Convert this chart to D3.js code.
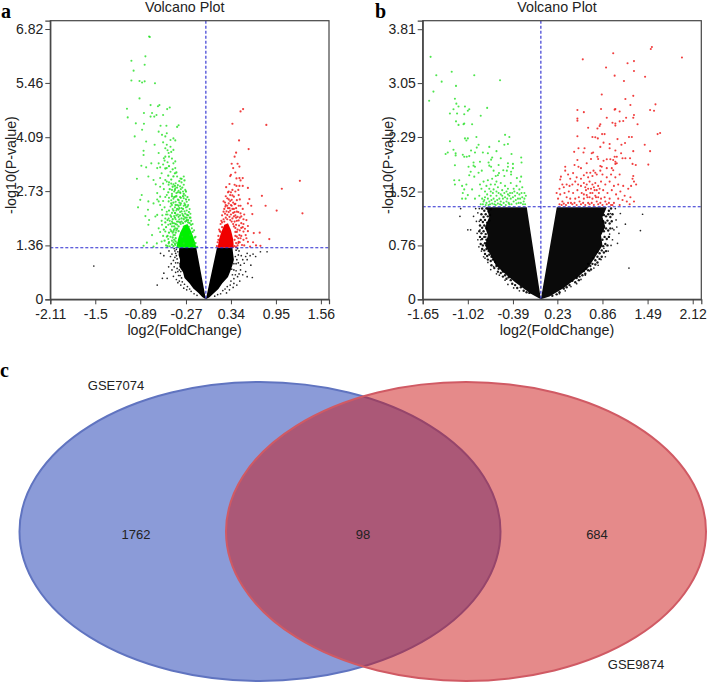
<!DOCTYPE html>
<html>
<head>
<meta charset="utf-8">
<title>Volcano plots and Venn diagram</title>
<script src="https://cdnjs.cloudflare.com/ajax/libs/d3/7.8.5/d3.min.js"></script>
<style>
  body { margin: 0; background: #fff; }
  text { font-family: "Liberation Sans", Arial, sans-serif; fill: #222; }
</style>
</head>
<body>
<div id="container"></div>
<script>
// Values. Sparse points are typed one by one [log2FC, -log10P];
// the saturated parts of each cloud are outlines (core*), also in data units.

const xTicksA = [-2.11, -1.5, -0.89, -0.27, 0.34, 0.95, 1.56];
const yTicksA = [0, 1.36, 2.73, 4.09, 5.46, 6.82];
const xTicksB = [-1.65, -1.02, -0.39, 0.23, 0.86, 1.49, 2.12];
const yTicksB = [0, 0.76, 1.52, 2.29, 3.05, 3.81];
const cutoffA = 1.3;
const cutoffB = 1.306;

const coreBlackLeftA = [[0,0],[-0.13,1.3],[-0.36,1.3],[-0.37,1.12],[-0.35,1.0],[-0.36,0.82],[-0.31,0.68],[-0.29,0.54],[-0.22,0.4],[-0.17,0.27],[-0.1,0.16],[-0.05,0.06]];
const coreBlackRightA = [[0,0],[0.15,1.3],[0.36,1.3],[0.37,1.14],[0.38,1.0],[0.36,0.86],[0.33,0.7],[0.3,0.56],[0.22,0.4],[0.17,0.26],[0.1,0.14],[0.05,0.05]];
const coreGreenA = [[-0.4,1.3],[-0.13,1.3],[-0.15,1.46],[-0.18,1.62],[-0.21,1.76],[-0.25,1.9],[-0.3,1.86],[-0.35,1.68],[-0.38,1.5]];
const coreRedA = [[0.16,1.3],[0.38,1.3],[0.37,1.52],[0.34,1.75],[0.3,1.92],[0.25,1.88],[0.21,1.7],[0.18,1.52]];

const greenA = [[-0.77,6.63],[-0.76,6.62],[-1.01,6.02],[-0.82,6.13],[-0.83,5.92],[-0.98,5.77],[-1.01,5.52],[-0.9,5.51],[-0.83,5.5],[-0.865,5.47],[-0.69,5.45],[-0.9,5.07],[-1.07,4.81],[-1.06,4.59],[-0.75,4.9],[-0.63,4.9],[-0.65,4.87],[-0.84,4.7],[-0.73,4.7],[-0.75,4.61],[-0.7,4.61],[-0.67,4.65],[-0.525,4.8],[-0.49,4.84],[-0.58,4.65],[-0.95,4.44],[-0.84,4.43],[-0.865,4.28],[-0.965,4.11],[-0.615,4.38],[-0.535,4.38],[-0.37,4.39],[-0.39,4.35],
[-0.64,4.23],[-0.53,4.19],[-0.595,4.15],[-0.55,4.11],[-0.44,4.06],[-0.415,4.01],[-0.81,3.98],[-0.695,3.9],[-0.53,3.9],[-0.48,3.85],[-0.55,3.81],[-0.44,3.77],[-0.845,3.75],[-0.64,3.69],[-0.505,3.69],[-0.55,3.6],[-0.845,3.64],[-0.57,3.56],[-0.44,3.43],[-0.415,3.48],[-0.74,3.43],[-0.875,3.37],[-0.81,3.33],[-0.64,3.43],[-0.66,3.31],[-0.62,3.33],[-0.53,3.31],[-0.415,3.31],[-0.48,3.22],[-0.3,3.1],[-0.345,3.05],[-0.55,3.01],[-0.935,3.04],[-0.78,3.1],[-0.71,3.01],[-0.53,2.97],[-0.505,2.89],[-0.39,3.1],[-0.3,2.89],[-0.28,2.76],[-0.87,2.63],[-0.62,2.84],[-0.57,2.78],[-0.66,2.68],[-0.415,2.8],[-0.46,2.76],[-0.345,2.68],[-0.53,2.63],[-0.62,2.59],[-0.64,2.47],[-0.89,2.51],[-0.78,2.47],[-0.71,2.42],[-0.415,2.59],[-0.3,2.55],[-0.23,2.51],[-0.505,2.47],[-0.46,2.38],[-0.345,2.38],[-0.37,2.26],[-0.92,2.32],[-0.785,2.26],[-0.595,2.26],[-0.53,2.21],[-0.415,2.17],[-0.66,2.13],[-0.82,2.1],[-0.685,2.09],[-0.3,2.09],[-0.255,2.13],[-0.77,2.0],[-0.78,1.88],[-0.505,2.04],[-0.46,1.96],[-0.37,1.96],[-0.3,1.83],[-0.595,1.88],[-0.64,1.79],[-0.55,1.71],[-0.415,1.79],[-0.23,1.83],[-0.19,1.79],[-0.73,1.62],[-0.53,1.58],[-0.44,1.62],[-0.32,1.58],[-0.21,1.62],[-0.14,1.58],[-0.665,1.41],[-0.505,1.41],[-0.415,1.37],[-0.8,1.43],[-0.845,1.35],[-0.3,1.41],[-0.165,1.41],[-0.71,1.33],
[-0.5,2.95],[-0.47,2.92],[-0.44,2.9],[-0.41,2.93],[-0.38,2.88],[-0.35,2.85],[-0.33,2.95],[-0.46,2.66],[-0.43,2.72],[-0.4,2.68],[-0.37,2.74],[-0.34,2.78],[-0.31,2.72],[-0.28,2.62],[-0.5,2.56],[-0.47,2.5],[-0.44,2.54],[-0.41,2.46],[-0.38,2.52],[-0.35,2.58],[-0.32,2.48],[-0.29,2.42],[-0.26,2.46],[-0.48,2.34],[-0.45,2.28],[-0.42,2.32],[-0.39,2.38],[-0.36,2.44],[-0.33,2.3],[-0.3,2.36],[-0.27,2.32],[-0.24,2.38],[-0.22,2.28],[-0.46,2.18],[-0.43,2.1],[-0.4,2.24],[-0.38,2.14],[-0.35,2.2],[-0.32,2.16],[-0.29,2.22],[-0.21,2.16],[-0.52,2.14],[-0.55,2.04],[-0.49,1.98],[-0.43,1.92],[-0.41,2.02],[-0.39,1.88],[-0.36,2.02],[-0.34,1.9],[-0.51,1.88],[-0.48,1.76],[-0.46,1.84],[-0.44,1.72],[-0.42,1.62],[-0.4,1.74],[-0.48,1.58],[-0.46,1.48],[-0.51,1.52],[-0.44,1.44],[-0.58,1.6],[-0.6,1.46],[-0.62,1.7],[-0.54,1.36],[-0.49,1.34],[-0.16,1.74],[-0.18,1.9],[-0.2,1.98],[-0.22,2.06],[-0.26,2.24],[-0.58,3.4],[-0.56,3.5],[-0.52,3.46],[-0.5,3.6],[-0.46,3.55],[-0.52,3.76],[-0.47,3.72],[-0.58,3.96],[-0.48,4.02],[-0.62,3.06],[-0.6,3.18],[-0.58,2.92],[-0.68,2.9],[-0.66,2.52],[-0.62,2.38],[-0.58,2.48],[-0.55,2.58],[-0.56,2.32],[-0.54,2.14],[-0.59,2.12],[-0.6,1.98]];

// denser middle of the green cloud in panel a
const greenMidA = [[-0.47,2.42],[-0.44,2.44],[-0.41,2.38],[-0.37,2.36],[-0.34,2.42],[-0.31,2.28],[-0.28,2.38],[-0.25,2.34],[-0.23,2.2],[-0.44,2.24],[-0.42,2.18],[-0.39,2.28],[-0.36,2.3],[-0.33,2.22],[-0.31,2.12],[-0.28,2.16],[-0.26,2.06],[-0.24,2.12],[-0.21,2.06],[-0.47,2.08],[-0.45,2.02],[-0.42,2.06],[-0.4,2.12],[-0.37,2.08],[-0.35,2.12],[-0.33,2.04],[-0.3,2.02],[-0.28,2.06],[-0.24,2.0],[-0.22,1.92],[-0.2,1.88],[-0.48,1.9],[-0.45,1.92],[-0.43,1.84],[-0.41,1.9],[-0.39,1.96],[-0.37,1.84],[-0.35,1.94],[-0.33,1.96],[-0.31,1.92],[-0.28,1.96],[-0.26,1.98],[-0.43,1.76],[-0.41,1.68],[-0.39,1.78],[-0.37,1.72],[-0.45,1.68],[-0.47,1.72],[-0.45,1.56],[-0.43,1.5],[-0.41,1.54],[-0.42,1.4],[-0.44,1.34],[-0.46,1.38],[-0.41,1.46],[-0.5,1.68],[-0.52,1.6],[-0.5,1.44],[-0.52,1.34],[-0.56,1.48],[-0.54,1.82],[-0.57,1.76],[-0.55,1.94],[-0.52,2.0],[-0.5,2.24],[-0.48,2.12],[-0.46,2.6],[-0.43,2.58],[-0.4,2.6],[-0.37,2.5],[-0.34,2.56],[-0.31,2.6],[-0.27,2.52],[-0.25,2.58],[-0.42,2.76],[-0.38,2.7],[-0.35,2.7],[-0.32,2.82],[-0.3,2.66],[-0.27,2.72],[-0.45,2.84],[-0.42,2.86],[-0.39,2.82],[-0.36,2.98],[-0.33,3.04],[-0.29,3.0],[-0.49,2.78],[-0.51,2.7],[-0.47,3.02],[-0.44,3.1],[-0.42,3.18],[-0.51,3.12],[-0.55,3.3],[-0.5,3.36],[-0.45,3.28],[-0.4,3.2],[-0.12,1.32],[-0.14,1.42],[-0.15,1.56],[-0.18,1.7],[-0.37,1.32],[-0.39,1.42],[-0.26,2.0],[-0.24,1.94]];

const redA = [[0.505,4.8],[0.47,4.74],[0.36,4.43],[0.82,4.4],[0.45,4.01],[0.58,3.79],[0.41,3.7],[0.39,3.6],[0.35,3.42],[0.43,3.42],[0.455,3.35],[0.37,3.31],[0.4,3.2],[0.34,3.14],[0.33,3.11],[0.455,3.06],[0.5,3.06],[0.47,3.0],[0.415,3.05],[1.275,2.99],[0.32,2.91],[0.275,2.83],[0.39,2.89],[0.415,2.86],[0.455,2.86],[0.5,2.86],[0.57,2.81],[1.03,2.79],[0.36,2.76],[0.31,2.72],[0.4,2.72],[0.33,2.63],[0.38,2.59],[0.76,2.61],[0.445,2.63],[0.29,2.55],[0.59,2.53],[0.24,2.47],[0.35,2.51],[0.46,2.52],[0.57,2.42],[0.615,2.36],[0.81,2.36],[0.265,2.34],[0.31,2.42],[0.4,2.41],[0.445,2.36],[0.96,2.24],[1.31,2.17],[0.63,2.15],[0.47,2.17],[0.42,2.21],[0.24,2.21],[0.29,2.13],[0.38,2.09],[0.51,2.02],[0.48,2.09],[0.33,2.0],[0.445,1.99],[0.2,1.9],[0.57,1.85],[0.51,1.9],[0.5,1.82],[0.57,1.72],[0.65,1.67],[0.73,1.68],[0.51,1.71],[0.54,1.62],[0.455,1.62],[0.86,1.52],[0.64,1.44],[0.57,1.45],[0.74,1.35],[0.6,1.33],[0.51,1.5],[0.445,1.45],[0.49,1.37],
[0.3,2.7],[0.33,2.48],[0.36,2.62],[0.39,2.4],[0.42,2.5],[0.27,2.6],[0.26,2.44],[0.29,2.36],[0.32,2.3],[0.35,2.36],[0.38,2.28],[0.41,2.3],[0.44,2.2],[0.25,2.28],[0.28,2.22],[0.31,2.2],[0.34,2.14],[0.37,2.18],[0.4,2.12],[0.43,2.08],[0.46,2.06],[0.22,2.12],[0.24,2.02],[0.21,1.98],[0.27,2.06],[0.36,2.04],[0.39,1.96],[0.42,1.98],[0.45,1.86],[0.48,1.92],[0.18,1.76],[0.2,1.7],[0.22,1.82],[0.17,1.6],[0.38,1.84],[0.41,1.88],[0.43,1.76],[0.46,1.74],[0.4,1.7],[0.42,1.58],[0.39,1.5],[0.41,1.42],[0.43,1.36],[0.47,1.54],[0.53,1.78],[0.55,1.54],[0.16,1.44],[0.68,1.36],[0.52,1.36],
[0.26,2.16],[0.29,2.02],[0.33,2.24],[0.36,2.28],[0.34,2.38],[0.3,2.3],[0.27,2.38],[0.39,2.2],[0.41,2.06],[0.32,2.08],[0.35,1.96],[0.37,1.9],[0.4,1.8],[0.42,1.7],[0.44,1.54],[0.46,1.44],[0.48,1.6],[0.4,1.6],[0.39,1.34],[0.41,1.32],[0.44,1.42],[0.15,1.34],[0.17,1.5],[0.19,1.72],[0.22,1.94],[0.25,1.96],[0.31,2.52],[0.34,2.7],[0.37,2.44],[0.44,2.76],[0.47,2.36],[0.5,2.28],[0.52,2.14],[0.55,2.0],[0.48,1.8]];

const blackA = [[-1.52,0.84],[-0.66,0.36],[-0.59,0.53],[-0.57,0.66],[-0.525,0.53],[-0.505,0.82],[-0.57,1.1],[-0.615,1.16],[-0.48,1.08],[-0.5,1.22],[-0.46,1.14],[-0.44,0.98],[-0.47,0.9],[-0.43,0.82],[-0.46,0.74],[-0.41,0.68],[-0.44,0.58],[-0.4,0.5],[-0.38,0.42],[-0.42,1.22],[-0.4,1.1],[-0.41,0.92],[-0.39,0.78],[-0.36,0.46],[-0.34,0.36],[-0.3,0.28],[-0.26,0.24],[-0.37,0.6],[-0.43,1.28],[-0.38,1.2],
[-0.4,1.26],[-0.39,1.02],[-0.38,0.92],[-0.38,0.7],[-0.36,0.74],[-0.35,0.6],[-0.33,0.54],[-0.32,0.44],[-0.29,0.38],[-0.25,0.32],[-0.22,0.26],[-0.2,0.2],[-0.16,0.14],[-0.12,0.1],[-0.42,1.06],[-0.41,1.16],[-0.35,0.9],[-0.34,0.7],
[0.63,0.55],[0.56,0.57],[0.83,1.2],[0.74,1.2],[0.675,1.08],[0.54,1.08],[0.56,1.16],[0.52,0.91],[0.47,0.74],[0.43,0.57],[0.38,0.4],[0.32,0.24],[0.64,1.14],[0.6,1.1],[0.56,1.0],[0.61,0.86],[0.54,0.7],[0.5,0.62],[0.46,0.46],[0.42,0.36],[0.37,0.3],[0.28,0.16],[0.45,1.22],[0.48,1.1],[0.5,1.0],[0.44,0.92],[0.43,1.28],[0.47,0.86],[0.41,0.72],[0.45,0.64],
[0.41,1.24],[0.4,1.08],[0.42,1.0],[0.41,0.9],[0.38,0.74],[0.4,0.62],[0.36,0.62],[0.38,0.52],[0.34,0.46],[0.33,0.36],[0.29,0.32],[0.26,0.26],[0.23,0.22],[0.2,0.14],[0.16,0.12],[0.12,0.08],[0.44,1.12],[0.38,0.9],[0.35,0.76]];

const coreBlackLeftB = [[0,0],[-0.197,1.3],[-0.76,1.3],[-0.72,1.16],[-0.78,1.02],[-0.74,0.9],[-0.78,0.76],[-0.7,0.62],[-0.63,0.48],[-0.5,0.36],[-0.36,0.24],[-0.14,0.08]];
const coreBlackRightB = [[0,0],[0.222,1.3],[0.92,1.3],[0.86,1.16],[0.9,1.02],[0.84,0.9],[0.86,0.76],[0.76,0.6],[0.66,0.44],[0.5,0.3],[0.32,0.16],[0.12,0.04]];

const greenB = [[-1.54,3.42],[-1.46,3.16],[-1.245,3.21],[-1.385,3.07],[-0.93,3.16],[-1.185,3.01],[-0.57,3.09],[-1.5,2.93],[-1.56,2.8],[-1.2,2.83],[-1.18,2.76],[-1.15,2.72],[-1.22,2.68],[-1.06,2.72],[-1.02,2.66],[-1.0,2.68],[-1.27,2.62],[-1.17,2.62],[-1.07,2.61],[-0.75,2.7],[-0.84,2.59],[-1.185,2.51],[-1.15,2.46],[-1.08,2.47],[-1.07,2.48],[-0.96,2.47],[-0.5,2.32],[-0.44,2.29],[-1.06,2.27],[-1.02,2.27],[-1.04,2.24],[-0.9,2.29],[-1.27,2.23],[-0.585,2.23],[-0.46,2.19],[-0.51,2.18],[-0.87,2.18],[-0.895,2.14],[-0.72,2.15],[-1.22,2.11],[-1.3,2.07],[-1.33,2.05],[-0.62,2.09],[-0.81,2.07],[-0.74,2.06],[-0.975,2.1],[-1.19,2.06],[-1.19,2.03],[-1.09,2.04],[-1.07,2.01],[-1.035,2.01],[-1.0,2.02],[-0.92,2.07],[-0.41,2.05],[-0.275,2.0],[-0.68,2.0],[-0.695,1.97],[-0.56,1.99],[-0.85,1.94],[-0.27,1.93],[-1.2,1.89],[-1.01,1.87],[-0.94,1.93],[-0.92,1.87],[-0.94,1.885],[-0.73,1.93],[-0.72,1.885],[-0.695,1.87],[-0.59,1.895],[-0.46,1.92],[-0.39,1.91],[-0.39,1.85],[-0.46,1.87],[-0.475,1.815],[-0.416,1.8],[-0.98,1.8],[-1.0,1.75],[-0.93,1.73],[-0.87,1.785],[-0.825,1.815],[-0.66,1.815],[-0.585,1.78],[-0.525,1.82],[-0.6,1.75],[-0.63,1.74],[-0.51,1.74],[-0.416,1.76],[-1.21,1.68],[-1.14,1.68],[-1.2,1.62],[-0.275,1.73],[-0.335,1.71],[-0.29,1.66],
[-1.1,1.6],[-1.07,1.55],[-1.09,1.5],[-1.04,1.62],[-1.02,1.47],[-1.1,1.42],[-1.05,1.42],[-0.96,1.55],[-0.92,1.42],[-0.85,1.62],[-0.83,1.56],[-0.8,1.66],[-0.78,1.52],[-0.76,1.6],[-0.74,1.68],[-0.72,1.56],[-0.7,1.62],[-0.68,1.7],[-0.66,1.55],[-0.64,1.62],[-0.62,1.66],[-0.6,1.58],[-0.56,1.64],[-0.54,1.54],[-0.5,1.6],[-0.46,1.56],[-0.42,1.64],[-0.38,1.56],[-0.34,1.6],[-0.3,1.55],[-0.26,1.58],[-0.23,1.5],
[-0.86,1.46],[-0.82,1.42],[-0.8,1.38],[-0.78,1.44],[-0.76,1.36],[-0.74,1.42],[-0.72,1.38],[-0.7,1.46],[-0.68,1.35],[-0.66,1.42],[-0.64,1.38],[-0.62,1.46],[-0.6,1.35],[-0.58,1.42],[-0.56,1.38],[-0.54,1.46],[-0.52,1.36],[-0.5,1.44],[-0.48,1.38],[-0.46,1.48],[-0.44,1.34],[-0.42,1.42],[-0.4,1.5],[-0.38,1.38],[-0.36,1.46],[-0.34,1.35],[-0.32,1.42],[-0.3,1.48],[-0.28,1.36],[-0.26,1.44],[-0.24,1.38],[-0.22,1.34],
[-0.84,1.34],[-0.81,1.34],[-0.79,1.4],[-0.77,1.33],[-0.75,1.48],[-0.73,1.33],[-0.71,1.34],[-0.69,1.4],[-0.67,1.5],[-0.65,1.34],[-0.63,1.33],[-0.61,1.4],[-0.59,1.5],[-0.57,1.34],[-0.55,1.33],[-0.53,1.42],[-0.51,1.5],[-0.49,1.33],[-0.47,1.42],[-0.45,1.36],[-0.43,1.5],[-0.41,1.34],[-0.39,1.44],[-0.37,1.52],[-0.35,1.4],[-0.33,1.5],[-0.31,1.36],[-0.29,1.42],[-0.27,1.5],[-0.25,1.34],[-0.23,1.42],[-0.21,1.46],[-0.7,1.52],[-0.62,1.52],[-0.56,1.48],[-0.48,1.52],[-0.44,1.46]];

const redB = [[1.55,3.56],[1.535,3.53],[1.97,3.41],[0.585,3.385],[1.01,3.47],[0.91,3.27],[1.21,3.33],[1.3,3.36],[1.3,3.22],[1.03,3.155],[1.455,3.14],[1.16,3.08],[0.85,2.89],[1.29,2.87],[1.18,2.825],[1.25,2.74],[1.6,2.75],[0.51,2.67],[0.6,2.64],[0.84,2.685],[1.03,2.675],[1.04,2.685],[1.1,2.65],[1.525,2.67],[1.58,2.66],[0.51,2.55],[0.51,2.52],[0.92,2.56],[1.19,2.56],[1.3,2.6],[1.29,2.56],[1.1,2.51],[1.15,2.515],[1.0,2.49],[1.04,2.48],[1.04,2.45],[1.35,2.47],[0.83,2.47],[0.82,2.445],[0.79,2.41],[0.66,2.42],[1.63,2.33],[1.665,2.345],[0.51,2.3],[0.72,2.29],[0.76,2.285],[0.795,2.27],[0.855,2.33],[0.89,2.33],[1.23,2.29],[1.27,2.29],[1.07,2.26],[1.45,2.18],[0.875,2.21],[1.125,2.18],[1.175,2.205],[0.83,2.15],[0.96,2.19],[0.96,2.13],[1.04,2.1],[1.12,2.06],[0.525,2.13],[0.61,2.13],[0.465,2.08],[0.595,2.07],[0.71,2.06],[0.73,2.07],[1.29,2.09],[1.525,2.09],[1.03,2.01],[1.06,2.01],[1.14,1.99],[1.18,1.99],[1.245,1.99],[0.79,2.01],[0.8,1.98],[0.7,1.98],[0.875,1.955],[0.92,1.975],[0.97,1.975],[1.01,1.965],[0.51,1.965],[1.04,1.94],[1.06,1.92],[1.04,1.91],[1.28,1.91],[1.325,1.895],[1.5,1.9],[0.34,1.87],[0.47,1.895],[0.525,1.87],[0.64,1.92],[0.83,1.88],[0.85,1.87],[0.92,1.85],[0.99,1.85],[1.01,1.82],[0.34,1.815],[0.56,1.85],[0.735,1.815],[0.64,1.785],[0.69,1.785],[0.76,1.785],[0.83,1.815],
[0.28,1.73],[0.27,1.69],[0.38,1.76],[0.41,1.7],[0.45,1.78],[0.5,1.72],[0.56,1.7],[0.6,1.75],[0.66,1.72],[0.72,1.74],[0.78,1.76],[0.86,1.76],[0.92,1.72],[0.98,1.76],[1.04,1.72],[1.1,1.76],[1.29,1.74],[1.28,1.7],[1.3,1.66],[1.33,1.62],[1.26,1.6],[1.22,1.56],[1.15,1.6],[1.08,1.62],[1.02,1.6],[0.96,1.66],[0.9,1.62],[0.84,1.66],[0.8,1.6],[0.76,1.64],[0.72,1.62],[0.68,1.66],[0.64,1.62],[0.6,1.64],[0.56,1.6],[0.52,1.62],[0.48,1.66],[0.44,1.62],[0.4,1.6],[0.36,1.62],[0.32,1.58],[0.3,1.62],[0.26,1.56],[0.22,1.5],
[0.24,1.42],[0.27,1.48],[0.3,1.38],[0.33,1.5],[0.36,1.44],[0.39,1.52],[0.42,1.36],[0.45,1.5],[0.48,1.42],[0.51,1.54],[0.54,1.38],[0.57,1.5],[0.6,1.42],[0.63,1.54],[0.66,1.36],[0.69,1.5],[0.72,1.42],[0.75,1.54],[0.78,1.38],[0.81,1.5],[0.84,1.42],[0.87,1.54],[0.9,1.38],[0.93,1.5],[0.96,1.42],[0.99,1.54],[1.02,1.36],[1.05,1.48],[1.08,1.42],[1.11,1.52],[1.14,1.4],[1.17,1.46],[1.2,1.38],[1.25,1.44],[1.3,1.38],[1.24,1.34],[1.1,1.33],[1.0,1.33],
[0.26,1.34],[0.29,1.33],[0.32,1.35],[0.35,1.33],[0.38,1.36],[0.41,1.42],[0.44,1.34],[0.47,1.36],[0.5,1.33],[0.53,1.44],[0.56,1.34],[0.59,1.36],[0.62,1.33],[0.65,1.44],[0.68,1.34],[0.71,1.36],[0.74,1.33],[0.77,1.44],[0.8,1.34],[0.83,1.36],[0.86,1.33],[0.89,1.44],[0.92,1.34],[0.95,1.36],[0.98,1.33],[0.6,1.48],[0.64,1.47],[0.68,1.44],[0.72,1.5],[0.76,1.46],[0.8,1.44],[0.7,1.56],[0.74,1.58],[0.66,1.56],[0.62,1.58],[0.78,1.54],[0.82,1.56]];

const blackB = [[-1.12,1.28],[-1.13,1.17],[-1.02,0.98],[-0.98,0.98],[-0.94,1.17],[-0.91,1.28],[-0.89,0.93],[-0.85,0.98],[-0.865,0.74],[-0.77,0.88],[-0.8,0.6],[-0.66,0.46],[-0.54,0.41],[-0.88,1.22],[-0.86,1.1],[-0.84,0.84],[-0.83,0.68],[-0.78,0.58],[-0.74,0.52],[-0.7,0.42],[-0.62,0.36],[-0.58,0.34],[-0.5,0.27],[-0.46,0.21],[-0.38,0.16],[-0.3,0.12],[-0.86,1.28],[-0.9,1.1],[-0.88,0.84],
[1.02,0.98],[1.09,0.93],[1.07,0.79],[1.11,1.21],[1.18,1.06],[1.42,1.2],[1.39,0.97],[1.23,0.44],[0.97,1.21],[1.05,1.12],[1.04,1.28],[1.06,1.02],[1.0,0.84],[0.98,0.76],[0.94,0.68],[0.9,0.6],[0.84,0.56],[0.8,0.48],[0.74,0.44],[0.68,0.4],[0.62,0.34],[0.56,0.28],[0.5,0.22],[0.42,0.18],[0.34,0.12],[0.26,0.08],[1.0,1.0],[0.96,0.92],[0.88,0.72]];

// the speckled outer band of the black cloud in panel b
const blackBandLeftB = [[-0.82,1.28],[-0.79,1.25],[-0.76,1.28],[-0.73,1.24],[-0.7,1.27],[-0.83,1.2],[-0.8,1.16],[-0.77,1.2],[-0.74,1.17],[-0.71,1.19],[-0.84,1.12],[-0.81,1.09],[-0.78,1.12],[-0.75,1.08],[-0.72,1.11],[-0.85,1.04],[-0.82,1.01],[-0.79,1.04],[-0.76,1.0],[-0.86,0.96],[-0.83,0.93],[-0.8,0.96],[-0.77,0.92],[-0.85,0.88],[-0.82,0.85],[-0.79,0.88],[-0.76,0.84],[-0.84,0.78],[-0.81,0.76],[-0.78,0.79],[-0.82,0.71],[-0.79,0.69],[-0.76,0.71],[-0.73,0.68],[-0.78,0.64],[-0.75,0.61],[-0.72,0.63],[-0.69,0.6],[-0.74,0.56],[-0.7,0.54],[-0.67,0.56],[-0.64,0.53],[-0.69,0.48],[-0.65,0.44],[-0.62,0.47],[-0.59,0.43],[-0.6,0.39],[-0.56,0.37],[-0.53,0.39],[-0.5,0.34],[-0.53,0.32],[-0.48,0.29],[-0.45,0.31],[-0.42,0.27],[-0.4,0.22],[-0.36,0.2],[-0.33,0.16],[-0.28,0.17],[-0.24,0.12],[-0.2,0.1],[-0.16,0.09]];
const blackBandRightB = [[0.98,1.28],[0.95,1.25],[1.0,1.2],[0.97,1.16],[0.94,1.2],[0.91,1.17],[0.88,1.19],[0.99,1.1],[0.96,1.07],[0.93,1.11],[0.9,1.08],[0.87,1.1],[0.97,1.0],[0.94,0.97],[0.91,1.0],[0.88,0.96],[0.95,0.88],[0.92,0.85],[0.89,0.88],[0.86,0.84],[0.93,0.76],[0.9,0.78],[0.87,0.75],[0.91,0.68],[0.88,0.66],[0.85,0.69],[0.82,0.65],[0.79,0.67],[0.85,0.6],[0.82,0.57],[0.79,0.6],[0.76,0.55],[0.73,0.58],[0.79,0.52],[0.76,0.49],[0.72,0.5],[0.69,0.47],[0.66,0.5],[0.7,0.42],[0.66,0.41],[0.63,0.43],[0.6,0.4],[0.62,0.36],[0.58,0.34],[0.54,0.32],[0.5,0.3],[0.53,0.27],[0.48,0.24],[0.44,0.26],[0.4,0.2],[0.36,0.17],[0.32,0.15],[0.26,0.1],[0.22,0.07],[0.16,0.05]];

const setNames = ["GSE7074", "GSE9874"];
const setCounts = [1762, 98, 684];

const svg = d3.select("#container").append("svg")
  .attr("width", 709)
  .attr("height", 684);

// One volcano panel: frame, dots, cutoff lines, axes
function volcano(cfg) {
  const x = d3.scaleLinear().domain(cfg.xDomain).range(cfg.xRange);
  const y = d3.scaleLinear().domain(cfg.yDomain).range([299.3, 20.7]);
  const g = svg.append("g");
  const outline = d3.line().x(d => x(d[0])).y(d => y(d[1])).curve(d3.curveLinearClosed);

  cfg.cores.forEach(c => {
    g.append("path").attr("d", outline(c.points)).attr("fill", c.color);
  });

  cfg.dots.forEach(s => {
    g.append("g").selectAll("circle")
      .data(s.points)
      .enter().append("circle")
      .attr("cx", d => x(d[0]))
      .attr("cy", d => y(d[1]))
      .attr("r", s.r)
      .attr("fill", s.color)
      .attr("opacity", s.opacity);
  });

  // cutoff lines
  g.append("line")
    .attr("x1", x(0)).attr("x2", x(0))
    .attr("y1", y.range()[1]).attr("y2", y.range()[0])
    .attr("stroke", "#2a2ad0").attr("stroke-width", 1.1).attr("stroke-dasharray", "3,2");
  g.append("line")
    .attr("x1", x.range()[0]).attr("x2", x.range()[1])
    .attr("y1", y(cfg.cutoff)).attr("y2", y(cfg.cutoff))
    .attr("stroke", "#2a2ad0").attr("stroke-width", 1.1).attr("stroke-dasharray", "3,2");

  g.append("rect")
    .attr("x", x.range()[0]).attr("y", y.range()[1])
    .attr("width", x.range()[1] - x.range()[0])
    .attr("height", y.range()[0] - y.range()[1])
    .attr("fill", "none").attr("stroke", "#444").attr("stroke-width", 1.2);

  const xAxis = g.append("g").attr("transform", "translate(0,299.3)")
    .call(d3.axisBottom(x).tickValues(cfg.xTicks).tickSize(5).tickPadding(4.5).tickFormat(d => String(d)));
  const yAxis = g.append("g").attr("transform", `translate(${x.range()[0]},0)`)
    .call(d3.axisLeft(y).tickValues(cfg.yTicks).tickSize(5).tickPadding(2).tickFormat(d => String(d)));
  [xAxis, yAxis].forEach(a => {
    a.select(".domain").attr("stroke", "#444").attr("stroke-width", 1.2);
    a.selectAll(".tick line").attr("stroke", "#444").attr("stroke-width", 1);
    a.selectAll("text").style("font-size", "14px").style("font-family", '"Liberation Sans", Arial, sans-serif').attr("fill", "#222");
  });

  const mid = (x.range()[0] + x.range()[1]) / 2;
  g.append("text").attr("x", mid - 5).attr("y", 12).attr("text-anchor", "middle")
    .style("font-size", "14.3px").text("Volcano Plot");
  g.append("text").attr("x", mid - 5).attr("y", 334.5).attr("text-anchor", "middle")
    .style("font-size", "14.3px").text("log2(FoldChange)");
  g.append("text")
    .attr("transform", `translate(${x.range()[0] + cfg.yLabelGap},165) rotate(-90)`)
    .attr("text-anchor", "middle")
    .style("font-size", "14.3px").text("-log10(P-value)");
}

volcano({
  xDomain: [-2.11, 1.67], xRange: [50.3, 329], yDomain: [0, 7.03],
  xTicks: xTicksA, yTicks: yTicksA, cutoff: cutoffA, yLabelGap: -34,
  cores: [
    { points: coreBlackLeftA, color: "#000" }, { points: coreBlackRightA, color: "#000" },
    { points: coreGreenA, color: "#00f000" }, { points: coreRedA, color: "#f00000" }
  ],
  dots: [
    { points: blackA, color: "#000", r: 0.85, opacity: 0.85 },
    { points: greenA, color: "#22e022", r: 1.05, opacity: 0.8 },
    { points: greenMidA, color: "#22e022", r: 1.15, opacity: 0.85 },
    { points: redA, color: "#ee1c1c", r: 1.1, opacity: 0.85 }
  ]
});

volcano({
  xDomain: [-1.65, 2.24], xRange: [422.7, 701.3], yDomain: [0, 3.93],
  xTicks: xTicksB, yTicks: yTicksB, cutoff: cutoffB, yLabelGap: -30,
  cores: [
    { points: coreBlackLeftB, color: "#0a0a0a" }, { points: coreBlackRightB, color: "#0a0a0a" }
  ],
  dots: [
    { points: blackB, color: "#000", r: 0.85, opacity: 0.85 },
    { points: blackBandLeftB, color: "#000", r: 1.2, opacity: 0.9 },
    { points: blackBandRightB, color: "#000", r: 1.2, opacity: 0.9 },
    { points: greenB, color: "#22e022", r: 1.05, opacity: 0.8 },
    { points: redB, color: "#ee1c1c", r: 1.05, opacity: 0.85 }
  ]
});

// Venn
const vennY = 531.5;
svg.append("ellipse")
  .attr("cx", 260).attr("cy", vennY).attr("rx", 240.5).attr("ry", 149.5)
  .attr("fill", "rgb(23,55,177)").attr("fill-opacity", 0.5)
  .attr("stroke", "#6074c0").attr("stroke-width", 2);
svg.append("ellipse")
  .attr("cx", 466).attr("cy", vennY).attr("rx", 240).attr("ry", 149.5)
  .attr("fill", "rgb(203,21,21)").attr("fill-opacity", 0.5)
  .attr("stroke", "#d05a64").attr("stroke-width", 2);

svg.selectAll(".count")
  .data(setCounts)
  .enter().append("text")
  .attr("class", "count")
  .attr("x", (d, i) => [136, 363, 597][i])
  .attr("y", 539)
  .attr("text-anchor", "middle")
  .style("font-size", "13px")
  .text(d => d);

svg.append("text").attr("x", 116).attr("y", 390).attr("text-anchor", "middle").style("font-size", "13px").text(setNames[0]);
svg.append("text").attr("x", 636).attr("y", 669).attr("text-anchor", "middle").style("font-size", "13px").text(setNames[1]);

// Panel letters
[["a", 1, 18], ["b", 375, 18], ["c", 0, 377]].forEach(p => {
  svg.append("text")
    .attr("x", p[1]).attr("y", p[2])
    .style("font-family", '"Liberation Serif", serif')
    .style("font-weight", "bold")
    .style("font-size", "20px")
    .style("fill", "#000")
    .text(p[0]);
});
</script>
</body>
</html>
